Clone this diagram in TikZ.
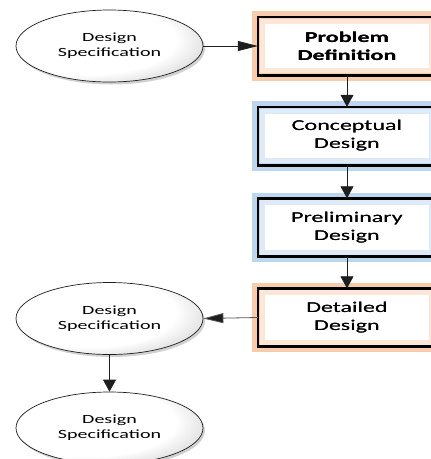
\documentclass[tikz,border=0pt]{standalone}
\usepackage{fontspec}
\setmainfont{Carlito}[FakeStretch=1.6]
\usetikzlibrary{arrows.meta,shapes.geometric,shadows,calc}
\definecolor{glowO}{RGB}{247,203,172}
\definecolor{glowOl}{RGB}{252,230,215}
\definecolor{glowB}{RGB}{188,214,237}
\definecolor{glowBl}{RGB}{222,235,247}
\definecolor{linec}{RGB}{30,30,30}
\definecolor{lineg}{RGB}{85,85,85}
\pgfdeclareradialshading{specshade}{\pgfpoint{-12bp}{8bp}}{color(0bp)=(white); color(24bp)=(white); color(31bp)=(black!12); color(36bp)=(black!40); color(50bp)=(black!40)}
\tikzset{
  stage/.style={rectangle, minimum width=178pt, minimum height=58pt, inner sep=0pt,
    align=center, font=\fontsize{15}{18}\selectfont, text=black},
  spec/.style={ellipse, minimum width=187pt, minimum height=72pt, inner sep=0pt,
    align=center, font=\fontsize{12.5}{15}\selectfont, draw=linec, line width=0.7pt,
    shading=specshade,
    drop shadow={shadow xshift=2pt, shadow yshift=-2.5pt, fill=black!40, opacity=0.45}},
  vconn/.style={draw=linec, line width=0.8pt, -{Triangle[width=13pt,length=12pt]}},
  hconn/.style={draw=linec, line width=0.8pt, -{Triangle[width=10pt,length=20pt]}},
}
\newcommand{\glowbox}[3]{% name, outer colour, inner colour
  \draw[#2, line width=11pt] (#1.south west) rectangle (#1.north east);
  \draw[#3, line width=5pt] ($(#1.south west)+(4.5pt,4.5pt)$) rectangle ($(#1.north east)+(-4.5pt,-4.5pt)$);
  \draw[black, line width=2.6pt] (#1.south west) rectangle (#1.north east);
}
\begin{document}
\begin{tikzpicture}[x=1pt,y=1pt]
\useasboundingbox (0,0) rectangle (431,-459);
\clip (0,0) rectangle (431,-459);
\node[stage] (pd) at (347,-46) {\bfseries Problem\\\bfseries Definition};
\node[stage] (cd) at (347,-136) {Conceptual\\Design};
\node[stage] (prd) at (347,-227.5) {Preliminary\\Design};
\node[stage] (dd) at (347,-317.5) {Detailed\\Design};
\glowbox{pd}{glowO}{glowOl}
\glowbox{cd}{glowB}{glowBl}
\glowbox{prd}{glowB}{glowBl}
\glowbox{dd}{glowO}{glowOl}
\node[stage] at (pd) {\bfseries Problem\\\bfseries Definition};
\node[stage] at (cd) {Conceptual\\Design};
\node[stage] at (prd) {Preliminary\\Design};
\node[stage] at (dd) {Detailed\\Design};
\node[spec] (s1) at (109.5,-46) {Design\\Specification};
\node[spec] (s2) at (109.5,-318.5) {Design\\Specification};
\node[spec] (s3) at (109.5,-428) {Design\\Specification};
\draw[hconn] (s1.east) -- (pd.west);
\draw[vconn] (pd.south) -- (cd.north);
\draw[vconn] (cd.south) -- (prd.north);
\draw[vconn] (prd.south) -- (dd.north);
\draw[hconn, draw=lineg, -{Triangle[width=10pt,length=20pt,fill=linec]}] (dd.west) -- (s2.east);
\draw[vconn] (s2.south) -- (s3.north);
\end{tikzpicture}
\end{document}
